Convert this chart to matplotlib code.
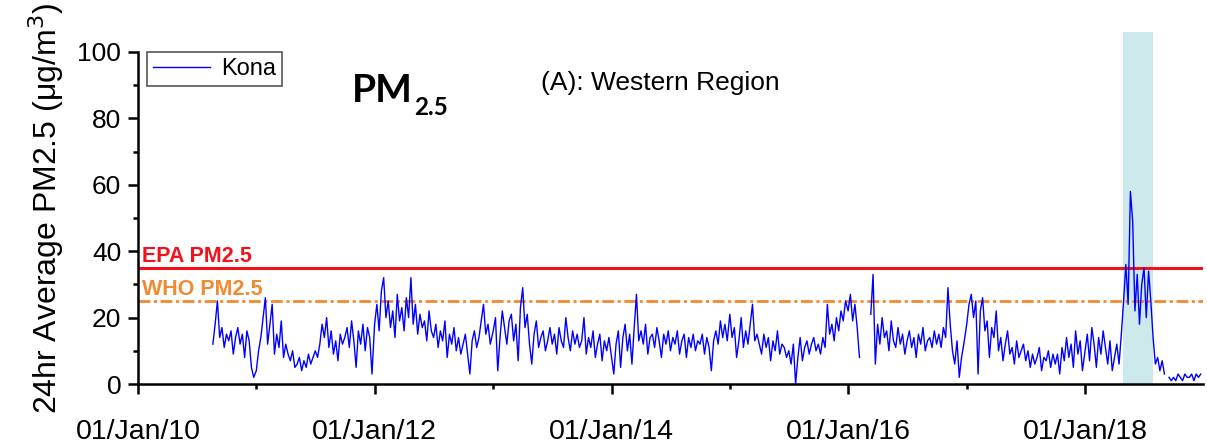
import numpy as np
import pandas as pd
import matplotlib
matplotlib.use("Agg")
import matplotlib.pyplot as plt
import matplotlib.dates as mdates

nan = np.nan

# weekly readings of the 24 h average PM2.5 at Kona (ug/m3)
kona_2010 = [12, 18, 25, 14, 17, 11, 15, 13, 16, 9, 14, 17, 12, 15, 8, 16, 13, 5, 2]
kona_2011 = [4, 10, 14, 20, 26, 12, 18, 24, 9, 15, 11, 19, 8,
             12, 9, 7, 10, 5, 6, 8, 4, 7, 5, 9, 6, 8,
             10, 8, 12, 18, 14, 20, 11, 16, 9, 13, 7, 15, 12,
             14, 17, 11, 19, 13, 5, 16, 12, 18, 10, 17, 14, 3]
kona_2012 = [18, 24, 16, 28, 32, 20, 25, 17, 22, 14, 27, 19, 23,
             16, 26, 20, 32, 18, 24, 15, 21, 17, 19, 13, 22, 16,
             14, 18, 11, 16, 13, 19, 8, 15, 12, 17, 10, 14, 9,
             12, 15, 9, 3, 13, 16, 11, 14, 19, 24, 15, 18, 12]
kona_2013 = [16, 20, 4, 14, 22, 17, 12, 19, 21, 13, 18, 7, 23,
             29, 17, 21, 12, 6, 15, 19, 11, 14, 16, 10, 13, 17,
             12, 15, 9, 17, 13, 11, 20, 14, 10, 16, 12, 15, 11,
             13, 20, 9, 14, 11, 16, 8, 12, 15, 7, 13, 10, 14]
kona_2014 = [8, 3, 12, 16, 5, 14, 18, 10, 15, 6, 17, 27, 13,
             16, 12, 18, 9, 14, 15, 11, 17, 13, 8, 15, 12, 16,
             10, 14, 12, 16, 9, 13, 15, 8, 14, 11, 15, 10, 13,
             12, 15, 9, 14, 11, 4, 13, 16, 12, 19, 14, 18, 13]
kona_2015 = [21, 14, 17, 8, 13, 20, 11, 16, 12, 18, 24, 13, 15,
             12, 9, 15, 11, 14, 7, 13, 10, 16, 9, 12, 11, 8,
             10, 6, 12, 0, 8, 14, 7, 11, 13, 9, 12, 14, 10,
             12, 9, 14, 11, 24, 15, 18, 13, 20, 16, 22, 19, 25]
kona_2016 = [22, 27, 19, 24, 17, 8, nan, nan, nan, nan, 21, 33, 6,
             18, 12, 20, 14, 16, 10, 19, 13, 11, 17, 12, 15, 9,
             13, 16, 11, 14, 8, 15, 12, 17, 10, 13, 14, 11, 16,
             12, 15, 11, 17, 14, 29, 18, 10, 6, 13, 2, 8, 12]
kona_2017 = [18, 24, 27, 20, 25, 3, 22, 26, 16, 19, 8, 17, 14,
             22, 10, 14, 7, 12, 16, 9, 11, 6, 13, 8, 10, 12,
             7, 10, 5, 9, 6, 8, 11, 4, 8, 7, 10, 5, 9,
             6, 9, 3, 11, 7, 14, 8, 12, 5, 16, 9, 13, 4]
kona_2018 = [10, 15, 7, 17, 12, 5, 14, 9, 16, 11, 6, 13, 4,
             8, 12, 6, 15, 25, 36, 24, 58, 49, 22, 33, 18, 30,
             35, 20, 34, 25, 14, 6, 8, 4, 7, 3, nan, 2, 1,
             2, 1, 3, 2, 1, 3, 2, 2, 3, 1, 3, 2, 3]

series_start = {"2010-08-20": kona_2010, "2011-01-01": kona_2011,
                "2012-01-01": kona_2012, "2013-01-01": kona_2013,
                "2014-01-01": kona_2014, "2015-01-01": kona_2015,
                "2016-01-01": kona_2016, "2017-01-01": kona_2017,
                "2018-01-01": kona_2018}

epa_limit = 35
who_limit = 25
eruption = ("2018-04-27", "2018-07-31")

parts = [pd.Series(v, index=pd.date_range(s, periods=len(v), freq="7D"))
         for s, v in series_start.items()]
kona = pd.concat(parts)

plt.rcParams["font.family"] = ["Liberation Sans", "DejaVu Sans"]
plt.rcParams["lines.scale_dashes"] = False

fig = plt.figure(figsize=(12.07, 4.48), dpi=100)
ax = fig.add_axes([138 / 1207, 64 / 448, 1065 / 1207, 352 / 448])

ax.axvspan(pd.Timestamp(eruption[0]), pd.Timestamp(eruption[1]),
           color="#cde9ec", zorder=0, lw=0)
ax.plot(kona.index, kona.values, color="#0000ff", lw=1.0, label="Kona", zorder=3)

ax.axhline(epa_limit, color="#f5101a", lw=2.2, zorder=2)
ax.axhline(who_limit, color="#f28a30", lw=2.0,
           linestyle=(0, (8.5, 2.6, 2.2, 2.6)), zorder=2)
x_lab = pd.Timestamp("2010-01-12")
ax.text(x_lab, 36.8, "EPA PM2.5", color="#f5101a", fontsize=15.5,
        fontweight="bold", va="baseline")
ax.text(x_lab, 26.8, "WHO PM2.5", color="#f28a30", fontsize=15.5,
        fontweight="bold", va="baseline")

pm = ax.text(0.201, 0.80, "PM", transform=ax.transAxes, fontsize=28,
             fontweight="bold", family="Lato", va="baseline")
ax.annotate("2.5", xy=(1, 0), xycoords=pm, xytext=(1, -5),
            textcoords="offset points", fontsize=17.5, fontweight="bold",
            family="Lato", va="baseline", ha="left")
ax.text(0.378, 0.835, "(A): Western Region", transform=ax.transAxes,
        fontsize=19, va="baseline")

ax.set_xlim(pd.Timestamp("2010-01-01"), pd.Timestamp("2018-12-31"))
ax.set_ylim(0, 106)
ax.set_yticks(np.arange(0, 101, 20))
ax.set_yticks(np.arange(10, 100, 20), minor=True)
ax.xaxis.set_major_locator(mdates.YearLocator(2))
ax.xaxis.set_minor_locator(mdates.YearLocator(1))
ax.xaxis.set_major_formatter(mdates.DateFormatter("%d/%b/%y"))

for side in ["top", "right"]:
    ax.spines[side].set_visible(False)
ax.spines["left"].set_bounds(0, 100)
for side in ["left", "bottom"]:
    ax.spines[side].set_linewidth(1.8)

ax.tick_params(axis="both", which="major", length=7, width=1.8, direction="out")
ax.tick_params(axis="both", which="minor", length=3.5, width=1.8, direction="out")
ax.tick_params(axis="y", labelsize=19, pad=5)
ax.tick_params(axis="x", labelsize=20.5, pad=18)

ax.set_ylabel("24hr Average PM2.5 (\u03bcg/m$^3$)", fontsize=23, labelpad=8)

leg = ax.legend(loc="upper left", bbox_to_anchor=(0.0085, 0.943),
                borderaxespad=0, fontsize=17, handlelength=2.4,
                fancybox=False, framealpha=1, borderpad=0.25,
                handletextpad=0.5)
leg.get_frame().set_edgecolor("#555555")
leg.get_frame().set_linewidth(1.2)

fig.savefig("out.png", dpi=100)
